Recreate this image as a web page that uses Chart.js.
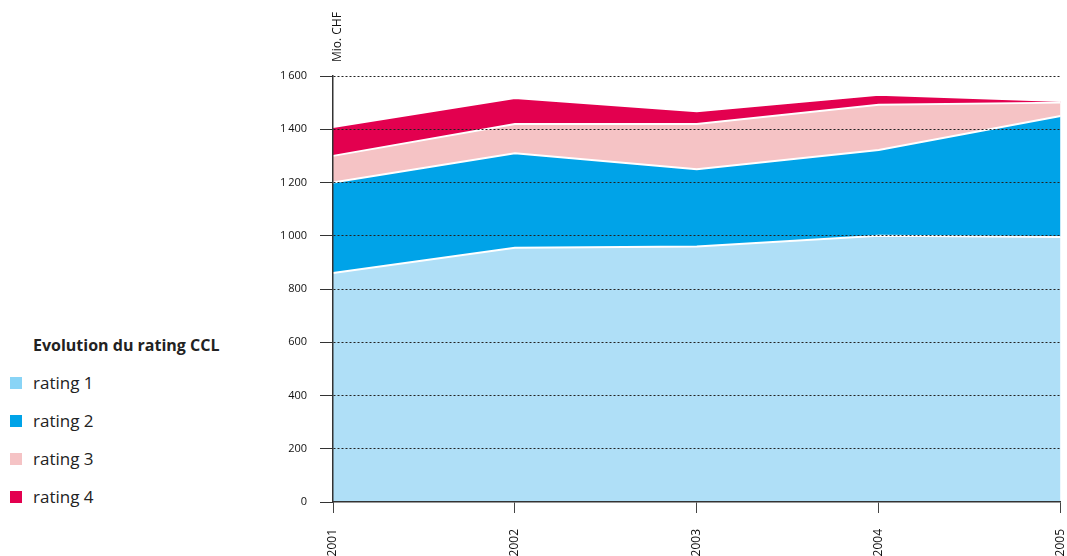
<!DOCTYPE html>
<html>
<head>
<meta charset="utf-8">
<script src="https://cdn.jsdelivr.net/npm/chart.js@4.4.1/dist/chart.umd.min.js"></script>
<style>
html, body { margin: 0; padding: 0; width: 1067px; height: 556px; overflow: hidden; background: #fff; font-family: 'Open Sans', sans-serif; }
#legende { position: absolute; left: 0; top: 326px; color: #222; }
#legende .titre { height: 38px; line-height: 38px; padding-left: 33px; font-weight: bold; font-size: 16px; }
#legende .item { height: 38px; line-height: 38px; padding-left: 33px; position: relative; font-size: 17px; }
#legende .item span { position: absolute; left: 10px; top: 13px; width: 12px; height: 12px; }
#wrap { position: absolute; left: 240px; top: 0; width: 851px; height: 556px; }
</style>
</head>
<body>
<div id="legende"><div class="titre">Evolution du rating CCL</div></div>
<div id="wrap"><canvas id="graphiqueCCL"></canvas></div>
<script>
const annees = ['2001', '2002', '2003', '2004', '2005'];
const rating1 = [860, 955, 960, 1000, 995];
const rating2 = [340, 355, 290, 322, 455];
const rating3 = [100, 110, 170, 170, 50];
const rating4 = [108, 97, 48, 38, 6];
const noms = ['rating 1', 'rating 2', 'rating 3', 'rating 4'];
const couleurs = ['#afdff7', '#00a3e8', '#f5c3c5', '#e3004f'];
const couleursLegende = ['#89d4f6', '#00a3e8', '#f5c3c5', '#e3004f'];

// legende a gauche
const legende = document.getElementById('legende');
noms.forEach((nom, i) => {
    const div = document.createElement('div');
    div.className = 'item';
    div.innerHTML = '<span style="background:' + couleursLegende[i] + '"></span>' + nom;
    legende.appendChild(div);
});

// titre "Mio. CHF" au-dessus de l'axe
const titreAxe = {
    id: 'titreAxe',
    afterDraw(chart) {
        const ctx = chart.ctx;
        ctx.save();
        ctx.translate(chart.chartArea.left + 5, 62);
        ctx.rotate(-Math.PI / 2);
        ctx.font = '12px "Open Sans"';
        ctx.fillStyle = '#111';
        ctx.textAlign = 'left';
        ctx.textBaseline = 'middle';
        ctx.fillText('Mio. CHF', 0, 0);
        ctx.restore();
    }
};

const series = [rating1, rating2, rating3, rating4];

new Chart(document.getElementById('graphiqueCCL').getContext('2d'), {
    type: 'line',
    data: {
        labels: annees,
        datasets: series.map((d, i) => ({
            label: noms[i],
            data: d,
            backgroundColor: couleurs[i],
            borderColor: '#fff',
            borderWidth: 2,
            fill: i === 0 ? 'origin' : '-1',
            tension: 0,
            pointRadius: 0
        }))
    },
    plugins: [titreAxe],
    options: {
        responsive: true,
        maintainAspectRatio: false,
        animation: false,
        layout: { padding: { top: 76, left: 33, right: 14, bottom: 0 } },
        plugins: {
            legend: { display: false },
            tooltip: { enabled: false }
        },
        scales: {
            x: {
                z: 2,
                grid: { drawOnChartArea: false, tickLength: 11, tickColor: '#444', z: 2 },
                border: { color: '#333', width: 1.5, z: 2 },
                ticks: { minRotation: 90, maxRotation: 90, padding: 16, autoSkip: false, color: '#111', font: { family: 'Open Sans', size: 12 } },
                afterFit: s => { s.height = 54; }
            },
            y: {
                stacked: true,
                min: 0,
                max: 1600,
                z: 1,
                grid: {
                    z: 1,
                    color: c => c.tick && c.tick.value === 0 ? 'rgba(0,0,0,0)' : '#222',
                    tickLength: 13,
                    tickColor: '#333',
                    tickBorderDash: []
                },
                border: { dash: [2, 2], color: '#333', width: 1.5, z: 2 },
                ticks: {
                    stepSize: 200,
                    padding: 13,
                    color: '#111',
                    font: { family: 'Open Sans', size: 11 },
                    callback: v => v >= 1000 ? Math.floor(v / 1000) + '\u2009' + String(v % 1000).padStart(3, '0') : v
                },
                afterFit: s => { s.width = 60; }
            }
        }
    }
});
</script>
</body>
</html>
